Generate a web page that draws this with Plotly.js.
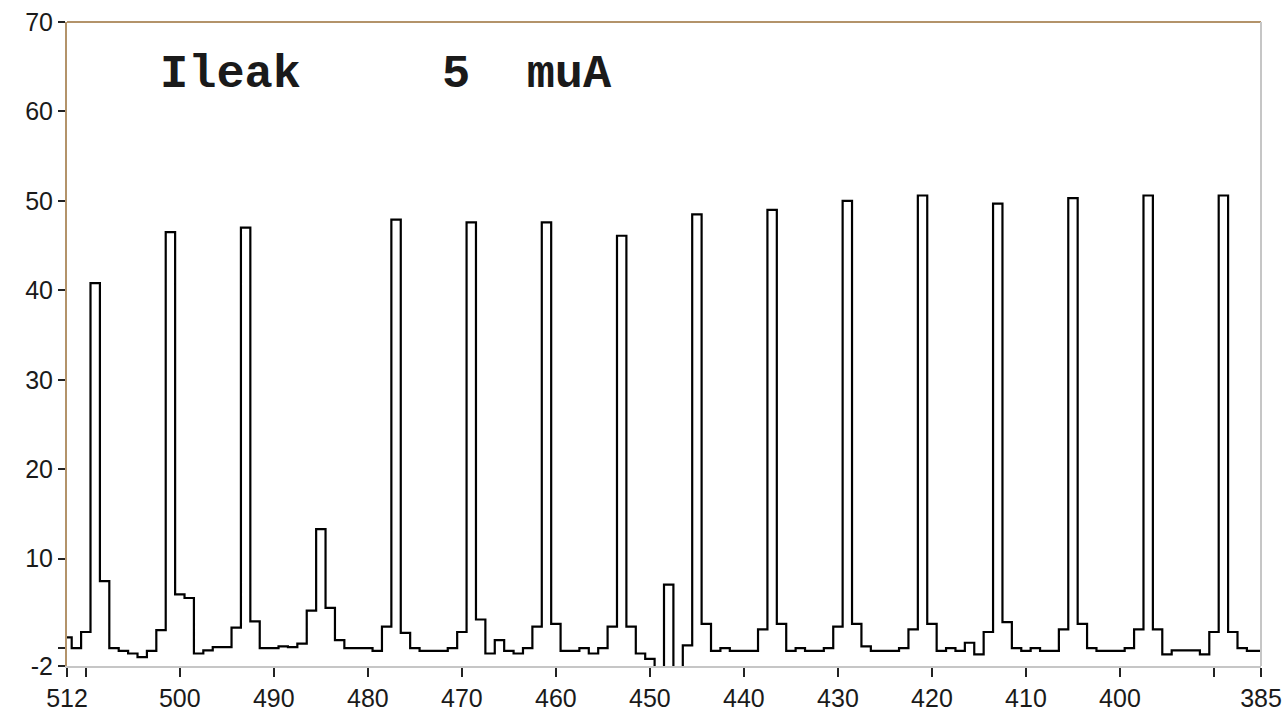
<!DOCTYPE html>
<html>
<head>
<meta charset="utf-8">
<script src="https://cdn.plot.ly/plotly-3.0.1.min.js"></script>
<style>
  html, body { margin: 0; padding: 0; background: #ffffff; }
  #chart { width: 1285px; height: 715px; }
</style>
</head>
<body>
<div id="chart"></div>
<script>
// Channel numbers (x axis, drawn reversed from 512 down to 385)
const channels = [];
for (let c = 512; c >= 385; c--) channels.push(c);

// Leakage signal per channel (512 -> 385)
const signal = [
  1.2, 0.0, 1.8, 40.8, 7.5, 0.0, -0.3, -0.6, -1.0, -0.3,      // 512-503
  2.0, 46.5, 6.0, 5.6, -0.6, -0.25, 0.1, 0.1, 2.3, 47.0,      // 502-493
  3.0, 0.0, 0.0, 0.2, 0.1, 0.5, 4.2, 13.3, 4.5, 0.9,          // 492-483
  0.0, 0.0, 0.0, -0.3, 2.4, 47.9, 1.7, 0.0, -0.3, -0.3,       // 482-473
  -0.3, 0.0, 1.8, 47.6, 3.2, -0.6, 0.9, -0.3, -0.6, 0.0,      // 472-463
  2.4, 47.6, 2.7, -0.3, -0.3, 0.0, -0.6, 0.0, 2.4, 46.1,      // 462-453
  2.4, -0.6, -1.2, -4.0, 7.1, -4.0, 0.3, 48.5, 2.7, -0.3,     // 452-443
  0.0, -0.3, -0.3, -0.3, 2.1, 49.0, 2.7, -0.3, 0.0, -0.3,     // 442-433
  -0.3, 0.0, 2.4, 50.0, 2.7, 0.2, -0.3, -0.3, -0.3, 0.0,      // 432-423
  2.1, 50.6, 2.7, -0.3, 0.0, -0.3, 0.6, -0.7, 1.8, 49.7,      // 422-413
  2.9, 0.0, -0.3, 0.0, -0.3, -0.3, 2.1, 50.3, 2.7, 0.0,       // 412-403
  -0.3, -0.3, -0.3, 0.0, 2.1, 50.6, 2.1, -0.7, -0.25, -0.25,  // 402-393
  -0.25, -0.7, 1.8, 50.6, 1.8, 0.0, -0.3, -0.3                // 392-385
];

// Tick values and labels
const xTickVals = [512, 510, 500, 490, 480, 470, 460, 450, 440, 430, 420, 410, 400, 390, 385];
const xTickText = ['512', '', '500', '490', '480', '470', '460', '450', '440', '430', '420', '410', '400', '', '385'];
const yTickVals = [-2, 0, 10, 20, 30, 40, 50, 60, 70];
const yTickText = ['-2', '', '10', '20', '30', '40', '50', '60', '70'];

const titleText = 'Ileak\u00a0\u00a0\u00a0\u00a0\u00a05\u00a0\u00a0muA';

const trace = {
  x: channels,
  y: signal,
  type: 'scatter',
  mode: 'lines',
  line: { shape: 'hvh', color: '#000000', width: 2.2 },
  hoverinfo: 'x+y'
};

const tan = '#b3936a';
const grey = '#c6c6c6';
const tickFont = { family: '"Liberation Sans", Arial, sans-serif', size: 25, color: '#1a1a1a' };

const layout = {
  width: 1285,
  height: 715,
  margin: { l: 67, r: 24, t: 22, b: 49 },
  paper_bgcolor: '#ffffff',
  plot_bgcolor: '#ffffff',
  showlegend: false,
  font: tickFont,
  xaxis: {
    range: [512, 385],
    tickmode: 'array',
    tickvals: xTickVals,
    ticktext: xTickText,
    ticks: 'outside',
    ticklen: 9,
    tickwidth: 2,
    tickcolor: '#222222',
    showgrid: false,
    zeroline: false,
    showline: true,
    linecolor: grey,
    linewidth: 2,
    tickfont: tickFont
  },
  yaxis: {
    range: [-2, 70],
    tickmode: 'array',
    tickvals: yTickVals,
    ticktext: yTickText,
    ticks: 'outside',
    ticklen: 7,
    tickwidth: 2,
    tickcolor: '#222222',
    showgrid: false,
    zeroline: false,
    showline: true,
    linecolor: tan,
    linewidth: 2,
    tickfont: tickFont
  },
  shapes: [
    { type: 'line', xref: 'paper', yref: 'paper', x0: 0, x1: 1, y0: 1, y1: 1, line: { color: tan, width: 2 } },
    { type: 'line', xref: 'paper', yref: 'paper', x0: 1, x1: 1, y0: 0, y1: 1, line: { color: grey, width: 2 } }
  ],
  annotations: [
    {
      text: titleText,
      xref: 'paper', yref: 'paper',
      x: 0.076, y: 0.918,
      xanchor: 'left', yanchor: 'middle',
      showarrow: false,
      font: { family: '"Liberation Mono", "Courier New", monospace', size: 47, color: '#1a1a1a', weight: 'bold' }
    }
  ]
};

Plotly.newPlot('chart', [trace], layout, { displayModeBar: false, staticPlot: true });
</script>
</body>
</html>
